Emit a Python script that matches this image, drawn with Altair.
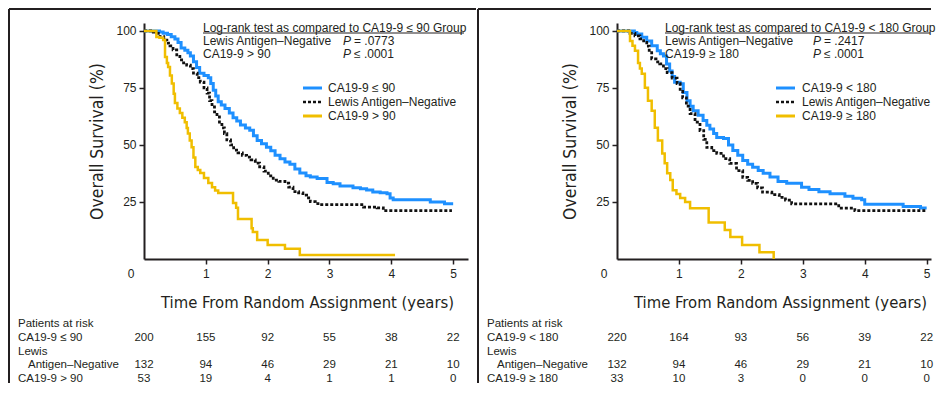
import altair as alt
import pandas as pd

FONT = "Liberation Sans"
TITLE_FONT = "DejaVu Sans Condensed, Liberation Sans"
INK = "#231f20"
BLUE = "#1E90FF"
GOLD = "#F0BE00"

# ---------------- data: left panel (cut-off 90) ----------------
L_SERIES = ["CA19-9 ≤ 90", "Lewis Antigen–Negative", "CA19-9 > 90"]
LB_T = [0, 0.2, 0.25, 0.31, 0.38, 0.44, 0.5, 0.55, 0.6, 0.66, 0.71, 0.75, 0.8, 0.85, 0.9, 0.97, 1.04, 1.08, 1.12, 1.16, 1.2, 1.25, 1.31, 1.38, 1.44, 1.5, 1.56, 1.64, 1.71, 1.77, 1.83, 1.9, 1.98, 2.05, 2.12, 2.2, 2.28, 2.36, 2.44, 2.52, 2.62, 2.69, 2.8, 2.96, 3.06, 3.17, 3.38, 3.5, 3.6, 3.7, 3.82, 3.93, 3.98, 4.03, 4.6, 4.63, 4.86, 5.0]
LB_S = [100, 100, 99.5, 99, 98.5, 97.5, 96.5, 95, 92.5, 91.5, 90.5, 89, 86.5, 84, 81.5, 80.5, 79.5, 77, 74, 71.5, 69, 67.5, 66, 64, 62, 60.5, 58.8, 57.5, 56.5, 54, 52, 50.5, 49, 47.5, 45.5, 44, 42.5, 41.5, 39.5, 37.7, 36.5, 36, 35.3, 33.5, 33, 32, 31.3, 30.8, 30.3, 29.4, 29, 28.6, 26.8, 26, 26, 25, 24.2, 24.2]
LN_T = [0, 0.1, 0.15, 0.2, 0.26, 0.32, 0.37, 0.42, 0.47, 0.53, 0.58, 0.64, 0.69, 0.75, 0.8, 0.86, 0.91, 0.97, 1.02, 1.06, 1.1, 1.14, 1.18, 1.22, 1.26, 1.3, 1.34, 1.4, 1.45, 1.52, 1.59, 1.66, 1.73, 1.8, 1.87, 1.94, 2.01, 2.09, 2.18, 2.28, 2.34, 2.41, 2.5, 2.57, 2.63, 2.69, 2.77, 2.85, 3.45, 3.55, 3.77, 3.87, 4.98]
LN_S = [100, 100, 99.5, 99, 97.5, 96, 94.7, 93.5, 91.7, 89.5, 87.3, 86, 85, 83.5, 81.5, 79.5, 77.6, 75, 72.8, 69.5, 66.7, 64.5, 62.3, 60, 57.5, 55, 52.2, 50, 47.8, 46.5, 45.5, 44.7, 43.5, 42, 40.4, 38.5, 36.5, 34.6, 34, 33.3, 31.5, 29.6, 29, 28, 26.8, 25.2, 24.3, 23.8, 23.8, 22.8, 22.4, 21.2, 21.2]
LH_T = [0, 0.18, 0.2, 0.25, 0.31, 0.34, 0.37, 0.39, 0.42, 0.45, 0.48, 0.5, 0.54, 0.58, 0.62, 0.66, 0.69, 0.71, 0.74, 0.77, 0.8, 0.83, 0.87, 0.91, 0.97, 1.04, 1.1, 1.15, 1.2, 1.39, 1.44, 1.49, 1.52, 1.71, 1.74, 1.76, 1.83, 2.0, 2.28, 2.52, 4.06]
LH_S = [100, 100, 97.4, 97, 96, 88.6, 86, 84.2, 80.5, 77, 72.5, 68.4, 66, 64, 62, 60, 57.5, 55, 52, 49, 44.5, 40.4, 39, 37.7, 35.5, 33.3, 31.5, 30, 28.9, 28.9, 24.6, 22.5, 17.5, 17.5, 13.5, 11.8, 8.3, 6.1, 4.5, 1.8, 1.8]
L_RISK_LABELS = ["CA19-9 ≤ 90", "Antigen–Negative", "CA19-9 > 90"]
L_RISK = [[200, 155, 92, 55, 38, 22], [132, 94, 46, 29, 21, 10], [53, 19, 4, 1, 1, 0]]
L_TEST = "Log-rank test as compared to CA19-9 ≤ 90 Group"
L_TEST_ROWS = ["Lewis Antigen–Negative", "CA19-9 > 90"]
L_P = ["= .0773", "≤ .0001"]

# ---------------- data: right panel (cut-off 180) ----------------
R_SERIES = ["CA19-9 < 180", "Lewis Antigen–Negative", "CA19-9 ≥ 180"]
RB_T = [0, 0.24, 0.28, 0.32, 0.4, 0.48, 0.56, 0.65, 0.7, 0.75, 0.8, 0.85, 0.89, 0.93, 1.02, 1.07, 1.13, 1.18, 1.23, 1.31, 1.39, 1.45, 1.5, 1.56, 1.61, 1.72, 1.8, 1.87, 1.95, 2.03, 2.11, 2.19, 2.28, 2.36, 2.47, 2.6, 2.74, 2.98, 3.1, 3.26, 3.44, 3.68, 3.81, 3.95, 4.0, 4.6, 4.62, 4.84, 4.9, 5.0]
RB_S = [100, 100, 99.3, 98.7, 97.2, 95.6, 93.5, 91.3, 90, 89, 85.5, 82.5, 80, 77.5, 76.9, 73, 69.4, 67, 65, 63, 60.7, 58.7, 57, 55, 53.3, 52.8, 50, 47.6, 45.5, 43.2, 41.6, 40.2, 38.8, 37.6, 36, 34, 33.2, 31.5, 30.5, 29.5, 28.6, 27.5, 26.6, 26, 24, 24, 23, 23, 22.4, 22.4]
RN_T = [0, 0.12, 0.21, 0.29, 0.37, 0.43, 0.48, 0.52, 0.56, 0.63, 0.69, 0.75, 0.81, 0.89, 0.97, 1.02, 1.06, 1.12, 1.18, 1.26, 1.34, 1.4, 1.45, 1.53, 1.61, 1.72, 1.82, 1.93, 2.03, 2.11, 2.19, 2.27, 2.35, 2.5, 2.62, 2.72, 2.82, 3.42, 3.58, 3.84, 5.0]
RN_S = [100, 100, 99, 97.8, 96.5, 95, 93.4, 90.5, 87.8, 86.5, 85.6, 83.5, 81.7, 79.3, 76.9, 73.5, 70.7, 67, 63.8, 60, 56.3, 52.5, 48.9, 47.5, 46.3, 44, 41.9, 38.8, 35.8, 34.5, 33.2, 31.2, 29.3, 28.2, 27, 25.8, 24.2, 24.2, 22.3, 21.2, 21.2]
RH_T = [0, 0.18, 0.21, 0.25, 0.29, 0.34, 0.37, 0.4, 0.45, 0.5, 0.56, 0.61, 0.66, 0.73, 0.77, 0.81, 0.86, 0.9, 0.96, 1.02, 1.1, 1.18, 1.48, 1.74, 1.83, 2.02, 2.3, 2.53, 2.53]
RH_S = [100, 100, 95.6, 93.5, 91.3, 86, 83.5, 81.2, 75.1, 69.4, 65, 57.6, 52, 46.3, 42, 37.6, 34.6, 30.1, 28.5, 26.7, 25, 22.3, 16, 12.7, 9.6, 6.1, 3, 3, 0]
R_RISK_LABELS = ["CA19-9 < 180", "Antigen–Negative", "CA19-9 ≥ 180"]
R_RISK = [[220, 164, 93, 56, 39, 22], [132, 94, 46, 29, 21, 10], [33, 10, 3, 0, 0, 0]]
R_TEST = "Log-rank test as compared to CA19-9 < 180 Group"
R_TEST_ROWS = ["Lewis Antigen–Negative", "CA19-9 ≥ 180"]
R_P = ["= .2417", "≤ .0001"]

RISK_T = [0, 1, 2, 3, 4, 5]
X_TICKS = [1, 2, 3, 4, 5]
Y_TICKS = [25, 50, 75, 100]
X_TITLE = "Time From Random Assignment (years)"
Y_TITLE = "Overall Survival (%)"
RISK_HEAD = "Patients at risk"
COLORS = [BLUE, "#111111", GOLD]
DASHES = [[1, 0], [3, 2], [1, 0]]
WIDTHS = [3, 2.5, 3]

H = 236
Y_MAX = 103.5
TXT = 12
TAB = 11.5


def one_row():
    return pd.DataFrame({"a": [0]})


def txt(label, x, y, size=TXT, align="left", style="normal", font=FONT, color=INK):
    return alt.Chart(pd.DataFrame({"label": [label]})).mark_text(
        align=align, baseline="middle", fontSize=size, font=font,
        fontStyle=style, color=color
    ).encode(text="label:N", x=alt.value(x), y=alt.value(y))


def rule(x, y, x2=None, y2=None, color=INK, width=2.0, dash=None):
    kw = dict(color=color, strokeWidth=width)
    if dash is not None:
        kw["strokeDash"] = dash
    enc = dict(x=alt.value(x), y=alt.value(y))
    if x2 is not None:
        enc["x2"] = alt.value(x2)
    if y2 is not None:
        enc["y2"] = alt.value(y2)
    return alt.Chart(one_row()).mark_rule(**kw).encode(**enc)


def panel(series, curves, test, test_rows, pvals, risk_labels, risk, xmax, width,
          box_left, box_right, test_x, under_end, p_x, legend_text_x):
    frames = []
    for name, (t, s) in zip(series, curves):
        frames.append(pd.DataFrame({"t": t, "s": s, "series": name, "k": range(len(t))}))
    data = pd.concat(frames, ignore_index=True)

    x_enc = alt.X(
        "t:Q",
        scale=alt.Scale(domain=[0, xmax], nice=False, zero=False),
        axis=alt.Axis(
            values=X_TICKS, format="d", title=X_TITLE, grid=False,
            titleFont=TITLE_FONT, titleFontSize=16.5, titleFontWeight="normal",
            titleColor=INK, titleX=163, titleY=43, titleBaseline="middle",
            domainColor=INK, domainWidth=2, tickColor=INK, tickWidth=1.5, tickSize=5,
            labelFont=FONT, labelFontSize=12, labelColor=INK, labelPadding=4,
        ),
    )
    y_enc = alt.Y(
        "s:Q",
        scale=alt.Scale(domain=[0, Y_MAX], nice=False),
        axis=alt.Axis(
            values=Y_TICKS, title=Y_TITLE, grid=False,
            titleFont=TITLE_FONT, titleFontSize=17.5, titleFontWeight="normal",
            titleColor=INK, titleX=-47, titleY=118, titleBaseline="middle",
            domainColor=INK, domainWidth=2, tickColor=INK, tickWidth=1.5, tickSize=5,
            labelFont=FONT, labelFontSize=12, labelColor=INK, labelPadding=3,
        ),
    )

    lines = alt.Chart(data).mark_line(interpolate="step-after").encode(
        x=x_enc,
        y=y_enc,
        color=alt.Color("series:N", scale=alt.Scale(domain=series, range=COLORS), legend=None),
        strokeDash=alt.StrokeDash("series:N", scale=alt.Scale(domain=series, range=DASHES), legend=None),
        strokeWidth=alt.StrokeWidth("series:N", scale=alt.Scale(domain=series, range=WIDTHS), legend=None),
        order=alt.Order("k:Q"),
    )

    layers = [lines]

    # corner "0" label shared by both axes
    layers.append(txt("0", -13, 251, size=12, align="center"))

    # log-rank annotation
    layers.append(txt(test, test_x, 5))
    layers.append(rule(test_x, 10, x2=under_end, color=INK, width=1))
    for i, (lab, pv) in enumerate(zip(test_rows, pvals)):
        yy = 18 + 13 * i
        layers.append(txt(lab, test_x, yy))
        layers.append(txt("P", p_x, yy, style="italic"))
        layers.append(txt(pv, p_x + 11, yy))

    # legend
    for i, name in enumerate(series):
        yy = 65 + 14 * i
        layers.append(rule(159, yy, x2=178, color=COLORS[i], width=WIDTHS[i],
                           dash=DASHES[i] if i == 1 else None))
        layers.append(txt(name, legend_text_x, yy))

    # patients at risk table
    lab_x = box_left + 9
    layers.append(txt(RISK_HEAD, lab_x, 301, size=TAB))
    rows_y = [315, 342, 356]
    layers.append(txt(risk_labels[0], lab_x, rows_y[0], size=TAB))
    layers.append(txt("Lewis", lab_x, 329, size=TAB))
    layers.append(txt(risk_labels[1], lab_x + 10, rows_y[1], size=TAB))
    layers.append(txt(risk_labels[2], lab_x, rows_y[2], size=TAB))
    for vals, yy in zip(risk, rows_y):
        df = pd.DataFrame({"t": RISK_T, "n": [str(v) for v in vals]})
        layers.append(
            alt.Chart(df).mark_text(fontSize=TAB, font=FONT, color=INK, baseline="middle").encode(
                x=x_enc, y=alt.value(yy), text="n:N"
            )
        )

    # panel frame
    layers.append(rule(box_left, -14, x2=box_right, color=INK, width=2))
    layers.append(rule(box_left, -14, y2=360, color=INK, width=2))

    return alt.layer(*layers).properties(width=width, height=H)


left = panel(
    L_SERIES, [(LB_T, LB_S), (LN_T, LN_S), (LH_T, LH_S)],
    L_TEST, L_TEST_ROWS, L_P, L_RISK_LABELS, L_RISK,
    xmax=5.24, width=324, box_left=-135, box_right=332,
    test_x=59, under_end=320, p_x=199, legend_text_x=184,
)
right = panel(
    R_SERIES, [(RB_T, RB_S), (RN_T, RN_S), (RH_T, RH_S)],
    R_TEST, R_TEST_ROWS, R_P, R_RISK_LABELS, R_RISK,
    xmax=5.07, width=314, box_left=-139, box_right=314,
    test_x=48, under_end=313, p_x=196, legend_text_x=185,
)

chart = (
    alt.hconcat(left, right, spacing=0)
    .resolve_scale(color="independent", strokeDash="independent", strokeWidth="independent")
    .properties(padding=0, background="white")
    .configure_view(stroke=None)
)

chart.save("out.html", embed_options={"renderer": "svg", "actions": False})
